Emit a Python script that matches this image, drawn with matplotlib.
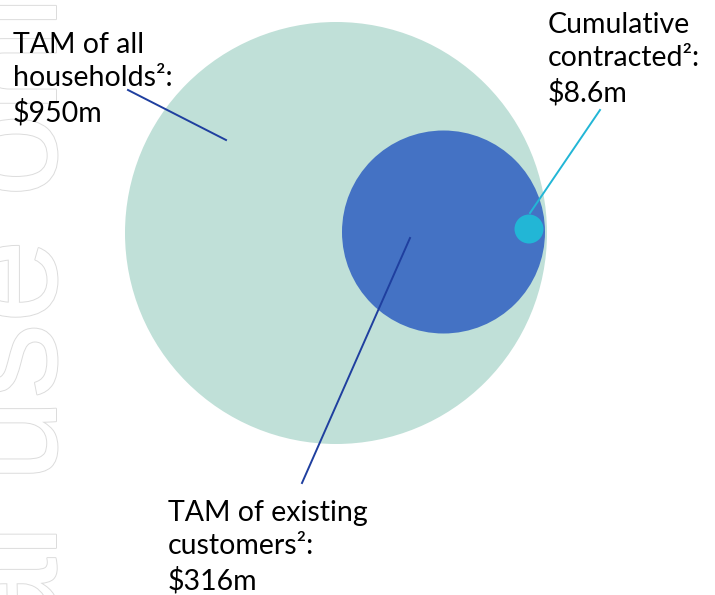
import matplotlib
matplotlib.use("Agg")
import matplotlib.pyplot as plt
from matplotlib.patches import Circle
import matplotlib.patheffects as pe

# Data (market sizes, $m) and labels
labels = ["TAM of all\nhouseholds²:\n$950m",
          "TAM of existing\ncustomers²:\n$316m",
          "Cumulative\ncontracted²:\n$8.6m"]
values = [950, 316, 8.6]
colors = ["#c0e0d8", "#4472c4", "#22b6d6"]
line_colors = ["#1f3f9f", "#1f3f9f", "#22b6d6"]

# Layout (pixel coords, y downward)
centers = [(336, 233), (443.5, 232), (529, 229)]
radii = [211, 101.5, 14.5]
label_pos = [(13, 32), (168, 500), (548, 12)]
line_pts = [((128, 90), (226, 140)), ((302, 483), (410, 238)), ((600, 110), (530, 213))]

fig = plt.figure(figsize=(7.15, 5.95), dpi=100)
ax = fig.add_axes([0, 0, 1, 1])
ax.set_xlim(0, 715)
ax.set_ylim(595, 0)
ax.set_aspect("equal")
ax.axis("off")

# watermark
ax.text(56, 646, "For personal use only", rotation=90, rotation_mode="anchor",
        ha="center", va="baseline", fontsize=108.7, family="Liberation Sans",
        color="white", zorder=1,
        path_effects=[pe.Stroke(linewidth=1.4, foreground="#dcdcdc"), pe.Normal()])

for (c, r, col) in zip(centers, radii, colors):
    ax.add_patch(Circle(c, r, facecolor=col, edgecolor="none", zorder=2))

for (p0, p1), lc in zip(line_pts, line_colors):
    ax.plot([p0[0], p1[0]], [p0[1], p1[1]], color=lc, lw=1.4, zorder=3)

for lab, (x, y) in zip(labels, label_pos):
    ax.text(x, y, lab, ha="left", va="top", fontsize=20.5, family="Lato",
            color="#000000", linespacing=1.34, zorder=4)

fig.savefig("out.png", dpi=100)
